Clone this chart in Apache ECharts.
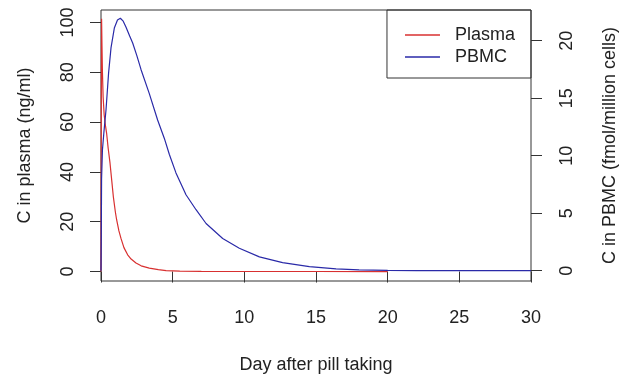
<!DOCTYPE html>
<html>
<head>
<meta charset="utf-8">
<script src="https://cdn.jsdelivr.net/npm/echarts@6/dist/echarts.min.js"></script>
<style>
  html, body { margin: 0; padding: 0; background: #fff; }
  #main { width: 620px; height: 377px; }
</style>
</head>
<body>
<div id="main"></div>
<script>
// plasma concentration (ng/ml) vs day
const plasmaDays = [0, 0.02, 0.04, 0.07, 0.1, 0.15, 0.22, 0.3, 0.39, 0.5, 0.63, 0.75, 0.86, 1.0, 1.09, 1.25, 1.4, 1.6, 1.86, 2.1, 2.44, 2.8, 3.37, 4.0, 4.54, 5.5, 7, 10, 15, 20]
const plasmaValues = [0, 60, 101.5, 90, 80, 70, 63, 59, 55.6, 49.5, 43.5, 36.5, 30.1, 24, 20.8, 16.3, 13.2, 9.6, 6.7, 5.0, 3.4, 2.3, 1.4, 0.8, 0.4, 0.15, 0.05, 0.02, 0.01, 0]

// PBMC concentration (fmol/million cells) vs day
const pbmcDays = [0, 0.02, 0.04, 0.1, 0.2, 0.35, 0.53, 0.7, 0.93, 1.15, 1.35, 1.55, 1.74, 2.0, 2.21, 2.5, 2.79, 3.37, 3.95, 4.42, 4.77, 5.23, 5.93, 6.63, 7.33, 8.49, 9.65, 11.05, 12.67, 14.54, 16.4, 18, 20, 22, 25, 30]
const pbmcValues = [0, 3, 8, 10.5, 12, 14, 17.2, 19.4, 21.1, 21.8, 21.95, 21.7, 21.2, 20.4, 19.8, 18.7, 17.5, 15.4, 13.1, 11.5, 10.1, 8.5, 6.6, 5.3, 4.1, 2.8, 1.95, 1.2, 0.7, 0.35, 0.15, 0.07, 0.03, 0.01, 0, 0]

const leftTicks = [0, 20, 40, 60, 80, 100]
const rightTicks = [0, 5, 10, 15, 20]

const FONT = 'Liberation Sans, Arial, sans-serif'
const INK = '#222'

const pair = (xs, ys) => xs.map((x, i) => [x, ys[i]])

let myChart = echarts.init(document.getElementById('main'))
myChart.setOption({
  backgroundColor: '#fff',
  animation: false,
  textStyle: { fontFamily: FONT, color: INK },
  grid: {
    left: 101, right: 89, top: 10, bottom: 96,
    outerBoundsMode: 'none',
    containLabel: false,
    show: true, borderColor: '#333', borderWidth: 1, backgroundColor: 'transparent'
  },
  legend: {
    orient: 'vertical',
    right: 89, top: 10,
    padding: [16, 16, 12, 18],
    itemGap: 4,
    itemWidth: 35,
    itemHeight: 1.5,
    icon: 'rect',
    borderColor: '#333',
    borderWidth: 1,
    borderRadius: 0,
    formatter: name => '  ' + name,
    textStyle: { fontFamily: FONT, fontSize: 18, color: INK },
    data: ['Plasma', 'PBMC']
  },
  xAxis: {
    type: 'value',
    min: 0, max: 30, interval: 5,
    name: 'Day after pill taking',
    nameLocation: 'middle',
    nameGap: 75.5,
    nameTextStyle: { fontFamily: FONT, fontSize: 18, color: INK },
    axisLine: { show: false },
    axisTick: { show: true, length: 11, lineStyle: { color: '#333' } },
    axisLabel: { margin: 28, fontFamily: FONT, fontSize: 18, color: INK },
    splitLine: { show: false }
  },
  yAxis: [{
    type: 'value',
    position: 'left',
    min: -3.8, max: 105,
    name: 'C in plasma (ng/ml)',
    nameLocation: 'middle',
    nameGap: 67,
    nameTextStyle: { fontFamily: FONT, fontSize: 18, color: INK },
    axisLine: { show: false },
    axisTick: { show: true, length: 11, customValues: leftTicks, lineStyle: { color: '#333' } },
    axisLabel: { customValues: leftTicks, rotate: 90, margin: 24, fontFamily: FONT, fontSize: 18, color: INK },
    splitLine: { show: false }
  }, {
    type: 'value',
    position: 'right',
    min: -0.9, max: 22.67,
    name: 'C in PBMC (fmol/million cells)',
    nameLocation: 'middle',
    nameGap: 70,
    nameRotate: 90,
    nameTextStyle: { fontFamily: FONT, fontSize: 18, color: INK },
    axisLine: { show: false },
    axisTick: { show: true, length: 11, customValues: rightTicks, lineStyle: { color: '#333' } },
    axisLabel: { customValues: rightTicks, rotate: 90, margin: 27, fontFamily: FONT, fontSize: 18, color: INK },
    splitLine: { show: false }
  }],
  series: [{
    name: 'Plasma',
    type: 'line',
    yAxisIndex: 0,
    showSymbol: false,
    itemStyle: { color: '#d83030' },
    lineStyle: { color: '#d83030', width: 1.2 },
    data: pair(plasmaDays, plasmaValues)
  }, {
    name: 'PBMC',
    type: 'line',
    yAxisIndex: 1,
    showSymbol: false,
    itemStyle: { color: '#2a2aa8' },
    lineStyle: { color: '#2a2aa8', width: 1.2 },
    data: pair(pbmcDays, pbmcValues)
  }]
})
</script>
</body>
</html>
